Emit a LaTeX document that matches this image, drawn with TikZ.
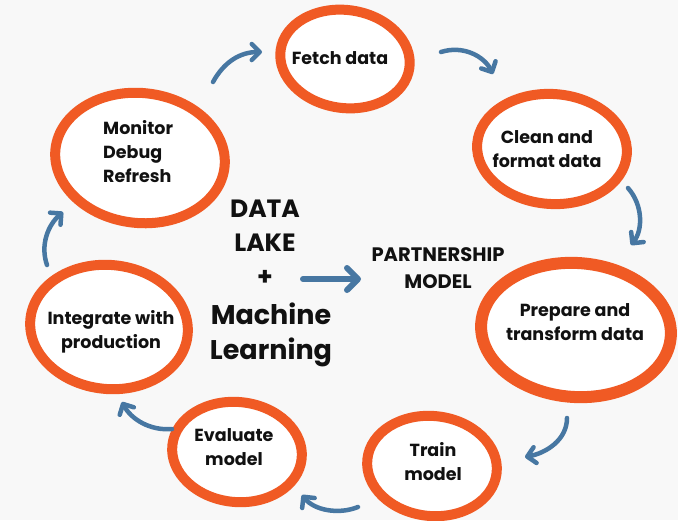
\documentclass[tikz,border=0pt]{standalone}
\usepackage{fontspec}
\setmainfont{Poppins}
\usetikzlibrary{shapes.geometric,arrows.meta}
\definecolor{bgc}{HTML}{F8F8F8}
\definecolor{ring}{HTML}{F05A24}
\definecolor{arr}{HTML}{4777A2}
\definecolor{ink}{HTML}{111111}
\tikzset{
  blob/.style={ellipse, draw=ring, fill=white, line width=10pt, inner sep=0pt},
  lbl/.style={text=ink, font=\fontsize{17.5}{24}\selectfont\bfseries, align=center, inner sep=0pt},
  big/.style={text=ink, font=\fontsize{25}{30}\selectfont\bfseries, inner sep=0pt},
  flow/.style={draw=arr, line width=4.5pt, line cap=round, line join=round,
    -{Straight Barb[length=8pt,width=16pt,line width=4.5pt,round]}},
}
\begin{document}
\begin{tikzpicture}[x=1pt,y=-1pt]
\fill[bgc] (0,0) rectangle (678,520);
\useasboundingbox (0,0) rectangle (678,520);
% rings
\node[blob, rotate=-8, minimum width=130pt, minimum height=98pt] (fetch) at (345,59) {};
\node[blob, rotate=-4, minimum width=150pt, minimum height=110pt] (clean) at (552,149) {};
\node[blob, rotate=-4, line width=12pt, minimum width=190pt, minimum height=134pt] (prep) at (576,330) {};
\node[blob, rotate=-6, minimum width=130pt, minimum height=100pt] (train) at (432,466) {};
\node[blob, rotate=-6, minimum width=130pt, minimum height=100pt] (eval) at (237,452) {};
\node[blob, rotate=-6, minimum width=158pt, minimum height=124pt] (integ) at (109,327) {};
\node[blob, rotate=-6, minimum width=170pt, minimum height=130pt] (mon) at (140,158) {};
% labels
\node[lbl] (fetchT) at (340,58) {Fetch data};
\node[lbl] (cleanT) at (547,149) {Clean and\\format data};
\node[lbl] (prepT) at (575,322) {Prepare and\\transform data};
\node[lbl] (trainT) at (433,462) {Train\\model};
\node[lbl] (evalT) at (234,447) {Evaluate\\model};
\node[lbl] (integT) at (111,332) {Integrate with\\production};
\node[lbl, align=left, anchor=west] (monT) at (103,152) {Monitor\\Debug\\Refresh};
% centre
\node[big] (data) at (265,209) {DATA};
\node[big] (lake) at (265,243) {LAKE};
\node[big] (plus) at (265,278) {+};
\node[text=ink, font=\fontsize{27}{35}\selectfont\bfseries, align=center, inner sep=0pt] (ml) at (271,335) {Machine\\Learning};
\node[text=ink, font=\fontsize{19.5}{27}\selectfont\bfseries, align=center, inner sep=0pt] (pm) at (438,268) {PARTNERSHIP\\MODEL};
% arrow end points
\coordinate (a1s) at (213,82);  \coordinate (a1e) at (262,52);
\coordinate (a2s) at (441,52);  \coordinate (a2e) at (493,74);
\coordinate (a3s) at (628,188); \coordinate (a3e) at (631,245);
\coordinate (a4s) at (567,418); \coordinate (a4e) at (525,457);
\coordinate (a5s) at (358,507); \coordinate (a5e) at (302,495);
\coordinate (a6s) at (172,429); \coordinate (a6e) at (122,402);
\coordinate (a7s) at (47,265);  \coordinate (a7e) at (63,212);
\coordinate (cs) at (303,279);  \coordinate (ce) at (361,279);
\draw[flow] (a1s) .. controls (224,62) and (240,52) .. (a1e);
\draw[flow] (a2s) .. controls (463,45) and (484,56) .. (a2e);
\draw[flow] (a3s) .. controls (643,205) and (643,230) .. (a3e);
\draw[flow] (a4s) .. controls (567,440) and (546,453) .. (a4e);
\draw[flow] (a5s) .. controls (338,515) and (314,510) .. (a5e);
\draw[flow] (a6s) .. controls (150,431) and (131,419) .. (a6e);
\draw[flow] (a7s) .. controls (40,245) and (48,225) .. (a7e);
\draw[draw=arr, line width=6pt, line cap=round, line join=round,
  -{Straight Barb[length=11pt,width=22pt,line width=6pt,round]}] (cs) -- (ce);
\end{tikzpicture}
\end{document}
